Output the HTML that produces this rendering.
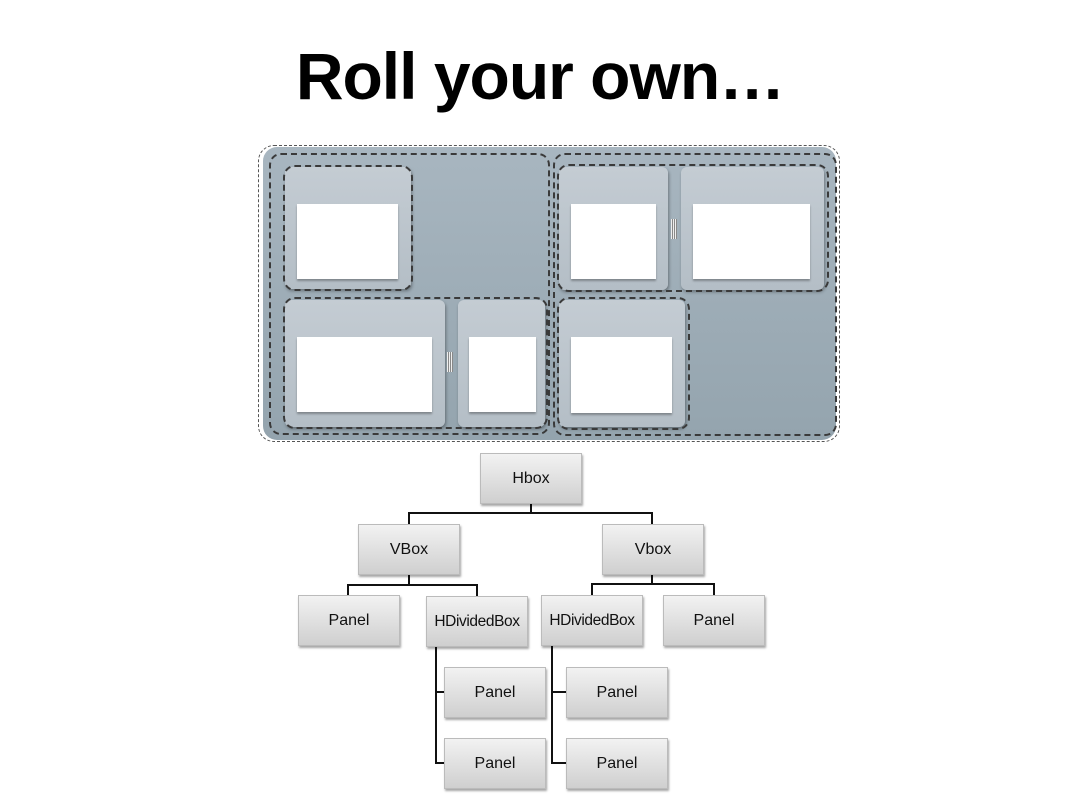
<!DOCTYPE html>
<html><head><style>
body{margin:0;width:1080px;height:810px;background:#fff;position:relative;overflow:hidden;font-family:"Liberation Sans",sans-serif}
.t{position:absolute;left:0;width:1080px;top:38px;text-align:center;font-weight:bold;font-size:66px;letter-spacing:-1px;color:#000}
.a{position:absolute;box-sizing:border-box}
.bg{background:linear-gradient(#a8b6c0,#94a4ae);border-radius:14px}
.d{border:2px dashed #3a3a3a;border-radius:12px}
.dl{border:1.5px dashed #555;border-radius:16px}
.p{background:linear-gradient(#c4ccd3,#b4bec6);border-radius:6px;box-shadow:1px 2px 3px rgba(0,0,0,.35)}
.w{background:#fff;box-shadow:0 2px 2px rgba(0,0,0,.3)}
.g{background:repeating-linear-gradient(90deg,#eee 0 1px,#888 1px 2px);}
.n{position:absolute;box-sizing:border-box;background:linear-gradient(#f2f2f2,#cfcfcf);border:1px solid #bbb;box-shadow:1px 2px 2px rgba(0,0,0,.35);display:flex;align-items:center;justify-content:center;font-size:16px;color:#111;width:102px;height:51px;white-space:nowrap}
.l{position:absolute;background:#111}
</style></head><body>
<div class="t">Roll your own…</div>
<div class="a bg" style="left:263px;top:147px;width:573px;height:293px"></div>
<div class="a dl" style="left:258px;top:145px;width:582px;height:297px"></div>
<div class="a d" style="left:269px;top:153px;width:281px;height:282px"></div>
<div class="a d" style="left:553px;top:153px;width:284px;height:283px"></div>
<div class="a p" style="left:285px;top:167px;width:126px;height:122px"></div>
<div class="a w" style="left:297px;top:204px;width:101px;height:75px"></div>
<div class="a d" style="left:283px;top:165px;width:130px;height:126px"></div>
<div class="a p" style="left:285px;top:300px;width:160px;height:127px"></div>
<div class="a w" style="left:297px;top:337px;width:135px;height:75px"></div>
<div class="a g" style="left:447px;top:352px;width:6px;height:20px"></div>
<div class="a p" style="left:458px;top:300px;width:87px;height:127px"></div>
<div class="a w" style="left:469px;top:337px;width:67px;height:75px"></div>
<div class="a d" style="left:283px;top:297px;width:265px;height:132px"></div>
<div class="a p" style="left:559px;top:167px;width:109px;height:123px"></div>
<div class="a w" style="left:571px;top:204px;width:85px;height:75px"></div>
<div class="a g" style="left:671px;top:219px;width:6px;height:20px"></div>
<div class="a p" style="left:681px;top:167px;width:143px;height:123px"></div>
<div class="a w" style="left:693px;top:204px;width:117px;height:75px"></div>
<div class="a d" style="left:557px;top:164px;width:272px;height:128px"></div>
<div class="a p" style="left:559px;top:300px;width:126px;height:127px"></div>
<div class="a w" style="left:571px;top:337px;width:101px;height:76px"></div>
<div class="a d" style="left:557px;top:297px;width:133px;height:133px"></div>
<div class="l" style="left:530px;top:503px;width:2px;height:11px"></div>
<div class="l" style="left:408px;top:512px;width:245px;height:2px"></div>
<div class="l" style="left:408px;top:512px;width:2px;height:12px"></div>
<div class="l" style="left:651px;top:512px;width:2px;height:12px"></div>
<div class="l" style="left:408px;top:575px;width:2px;height:11px"></div>
<div class="l" style="left:347px;top:584px;width:131px;height:2px"></div>
<div class="l" style="left:347px;top:584px;width:2px;height:11px"></div>
<div class="l" style="left:476px;top:584px;width:2px;height:12px"></div>
<div class="l" style="left:651px;top:575px;width:2px;height:10px"></div>
<div class="l" style="left:591px;top:583px;width:124px;height:2px"></div>
<div class="l" style="left:591px;top:583px;width:2px;height:13px"></div>
<div class="l" style="left:713px;top:583px;width:2px;height:13px"></div>
<div class="l" style="left:435px;top:647px;width:2px;height:117px"></div>
<div class="l" style="left:435px;top:691px;width:10px;height:2px"></div>
<div class="l" style="left:435px;top:762px;width:10px;height:2px"></div>
<div class="l" style="left:551px;top:646px;width:2px;height:118px"></div>
<div class="l" style="left:551px;top:691px;width:16px;height:2px"></div>
<div class="l" style="left:551px;top:762px;width:16px;height:2px"></div>
<div class="n" style="left:480px;top:453px">Hbox</div>
<div class="n" style="left:358px;top:524px">VBox</div>
<div class="n" style="left:602px;top:524px">Vbox</div>
<div class="n" style="left:298px;top:595px">Panel</div>
<div class="n" style="left:426px;top:596px;font-size:15.5px;letter-spacing:-0.4px">HDividedBox</div>
<div class="n" style="left:541px;top:595px;font-size:15.5px;letter-spacing:-0.4px">HDividedBox</div>
<div class="n" style="left:663px;top:595px">Panel</div>
<div class="n" style="left:444px;top:667px">Panel</div>
<div class="n" style="left:566px;top:667px">Panel</div>
<div class="n" style="left:444px;top:738px">Panel</div>
<div class="n" style="left:566px;top:738px">Panel</div>
</body></html>
